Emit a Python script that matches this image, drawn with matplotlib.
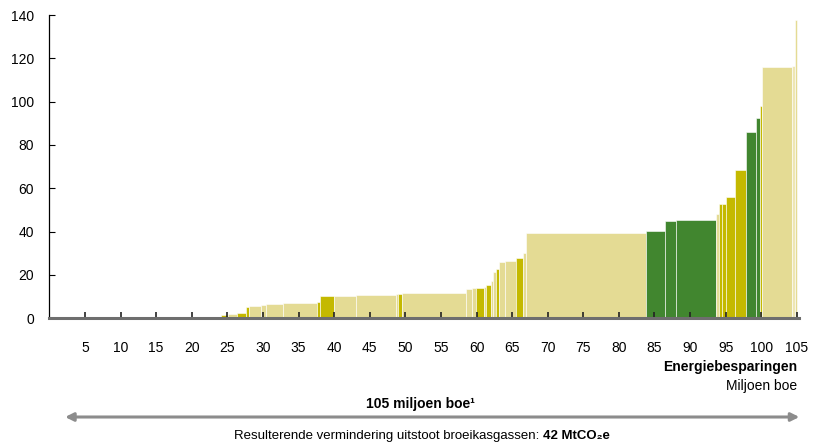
import matplotlib
matplotlib.use("Agg")
import matplotlib.pyplot as plt
import numpy as np

plt.rcParams['font.family'] = ['Liberation Sans', 'DejaVu Sans']

# energy savings per measure (million boe) and cost per measure, in curve order
widths = [23.0, 1.1, 1.0, 1.2, 1.3, 0.4, 1.7, 0.7, 2.4, 4.8, 0.4, 2.0, 3.1, 5.6,
          0.3, 0.5, 9.0, 0.8, 0.6, 1.1, 0.4, 0.6, 0.3, 0.4, 0.4, 0.9, 1.6, 1.0,
          0.4, 16.8, 2.7, 1.5, 5.7, 0.3, 0.5, 0.5, 1.3, 1.55, 1.35, 0.55, 0.3,
          4.25, 0.5, 0.25]
heights = [0.0, 0.6, 1.5, 2.0, 2.5, 5.0, 5.9, 6.3, 6.6, 7.1, 7.5, 10.2, 10.5, 10.9,
           11.3, 11.4, 11.9, 13.5, 13.8, 14.0, 14.5, 15.4, 17.0, 21.4, 22.8, 25.9,
           26.6, 28.0, 30.3, 39.2, 40.3, 45.1, 45.4, 48.0, 52.6, 52.6, 55.9, 68.3,
           85.9, 92.6, 98.0, 116.0, 116.5, 137.7]
kinds = ['L', 'L', 'O', 'L', 'O', 'O', 'L', 'L', 'L', 'L', 'O', 'O', 'L', 'L',
         'L', 'O', 'L', 'L', 'L', 'O', 'L', 'O', 'L', 'L', 'O', 'L', 'L', 'O',
         'L', 'L', 'G', 'G', 'G', 'L', 'O', 'O', 'O', 'O', 'G', 'G', 'O', 'L',
         'P', 'L']

x_ticks = list(range(5, 106, 5))
y_ticks = list(range(0, 141, 20))

colors = {'L': '#E4DB94', 'O': '#C4B900', 'G': '#41862F', 'P': '#EEE6B4'}

fig = plt.figure(figsize=(8.14, 4.44), dpi=100)
ax = fig.add_axes([0.0606, 0.2831, 0.921, 0.6831])

lefts = np.concatenate([[0], np.cumsum(widths)[:-1]])
ax.bar(lefts, heights, width=widths, align='edge',
       color=[colors[k] for k in kinds], edgecolor='white', linewidth=0.4)

ax.set_xlim(0, 105.3)
ax.set_ylim(0, 140)
ax.set_xticks(x_ticks)
ax.set_yticks(y_ticks)
ax.tick_params(axis='x', direction='in', length=4, width=1.2, color='#222222',
               pad=16, labelsize=10)
ax.tick_params(axis='y', direction='in', length=4, width=0.8, color='black',
               pad=11, labelsize=10)

for s in ['top', 'right']:
    ax.spines[s].set_visible(False)
ax.spines['left'].set_linewidth(0.9)
ax.spines['bottom'].set_color('#6E6E6E')
ax.spines['bottom'].set_linewidth(2.2)

fig.text(0.979, 0.1734, 'Energiebesparingen', ha='right', va='center',
         fontsize=10, fontweight='bold')
fig.text(0.979, 0.1306, 'Miljoen boe', ha='right', va='center', fontsize=10)
fig.text(0.517, 0.0901, '105 miljoen boe\u00b9', ha='center',
         va='center', fontsize=10, fontweight='bold')

ax.annotate('', xy=(0.982, 0.0608), xytext=(0.080, 0.0608),
            xycoords='figure fraction', textcoords='figure fraction',
            arrowprops=dict(arrowstyle='<|-|>', color='#8C8C8C', lw=2.2,
                            mutation_scale=12, shrinkA=0, shrinkB=0),
            annotation_clip=False)

# bottom line: normal part followed by bold part, centred together
renderer = fig.canvas.get_renderer()
t1 = fig.text(0, 0.018, 'Resulterende vermindering uitstoot broeikasgassen: ',
              ha='left', va='center', fontsize=9.5)
t2 = fig.text(0, 0.018, '42 MtCO\u2082e', ha='left', va='center', fontsize=9.5,
              fontweight='bold')
w1 = t1.get_window_extent(renderer).width / fig.bbox.width
w2 = t2.get_window_extent(renderer).width / fig.bbox.width
x0 = 0.518 - (w1 + w2) / 2
t1.set_x(x0)
t2.set_x(x0 + w1)

fig.savefig('out.png', dpi=100)
